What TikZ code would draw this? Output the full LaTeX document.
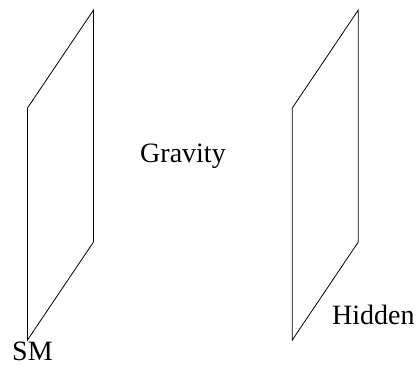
\documentclass[tikz,border=0pt]{standalone}
\usepackage{fontspec}
\setmainfont{Liberation Serif}
\usetikzlibrary{positioning}

\begin{document}
\begin{tikzpicture}[
    x=1pt, y=-1pt,
    brane/.style={
        draw,
        line width=0.8pt,
        line join=miter
    },
    txt/.style={
        font=\fontsize{28}{34}\selectfont,
        inner sep=0pt
    }
]
\useasboundingbox (0,0) rectangle (418,365);

% the two branes
\foreach \x in {27.5,292.3}
    \draw[brane] (\x,108) -- (\x+66,10) -- (\x+66,242) -- (\x,340) -- cycle;

\node[txt, anchor=base west] (sm) at (12,360) {SM};
\node[txt, anchor=base] (gravity) at (183,162) {Gravity};
\node[txt, anchor=base west] (hidden) at (332,324) {Hidden};

\end{tikzpicture}
\end{document}
